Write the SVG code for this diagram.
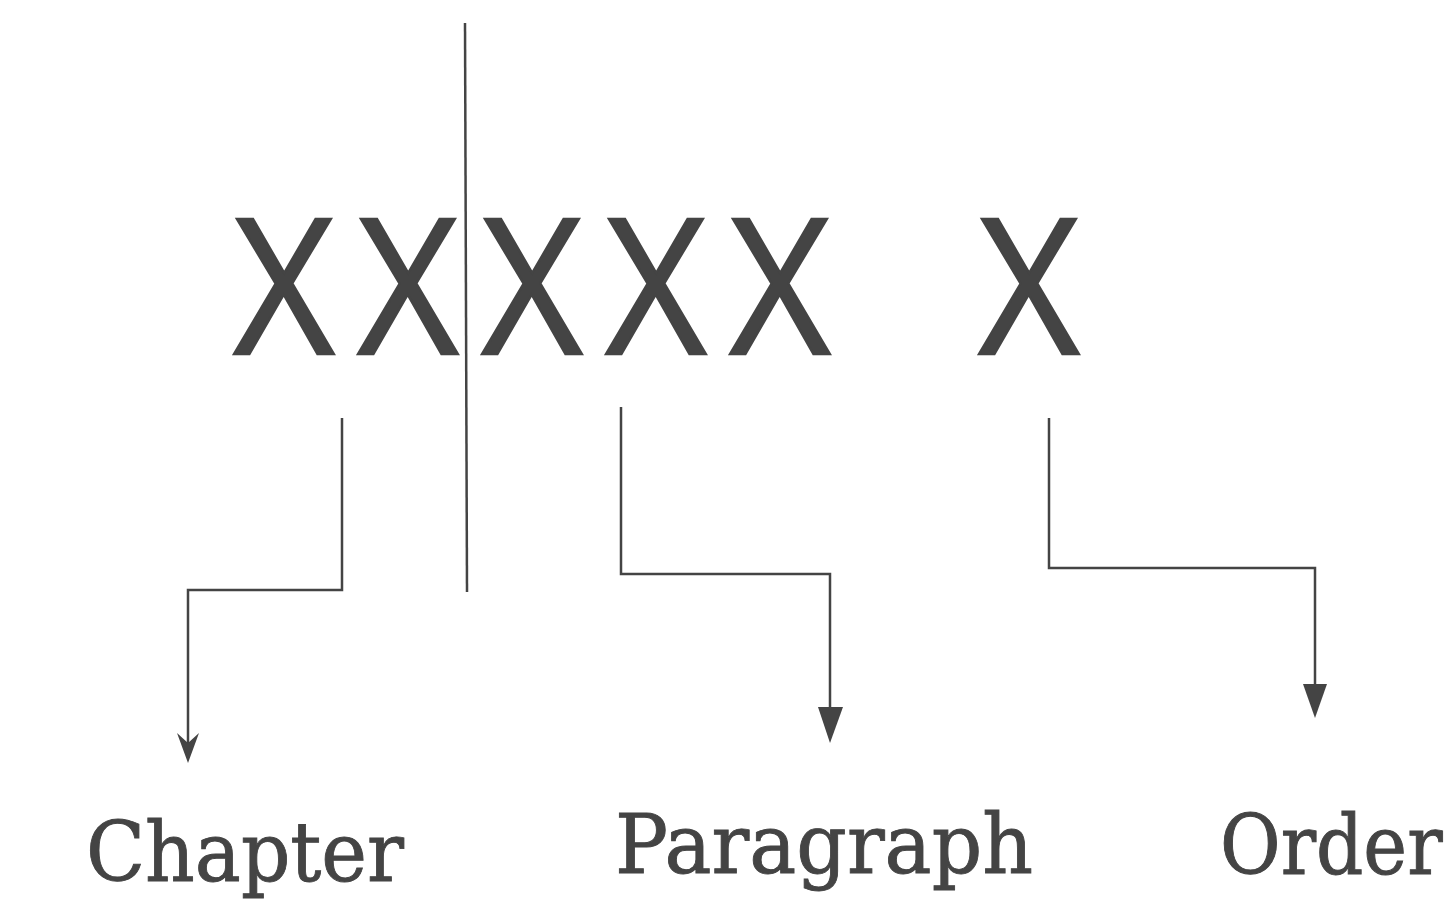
<svg xmlns="http://www.w3.org/2000/svg" width="1454" height="902" viewBox="0 0 1454 902">
<style>
.x{font-family:"Open Sans","DejaVu Sans",sans-serif;font-size:188px;fill:#444;stroke:#444;stroke-width:2.5;text-anchor:middle}
.lbl{font-family:"DejaVu Serif","Liberation Serif",serif;font-size:82px;fill:#444;stroke:#444;stroke-width:0.9}
.ln{fill:none;stroke:#444;stroke-width:2.5}
</style>
<rect width="1454" height="902" fill="#fff"/>
<g id="code">
<text class="x" transform="translate(284,354) scale(0.93,1)">X</text>
<text class="x" transform="translate(408,354) scale(0.93,1)">X</text>
<text class="x" transform="translate(532,354) scale(0.93,1)">X</text>
<text class="x" transform="translate(656,354) scale(0.93,1)">X</text>
<text class="x" transform="translate(780,354) scale(0.93,1)">X</text>
<text class="x" transform="translate(1029,354) scale(0.93,1)">X</text>
</g>
<g id="divider"><line class="ln" x1="465" y1="23" x2="467" y2="592"/></g>
<g id="connectors">
<polyline class="ln" points="342,418 342,590 188,590 188,758"/>
<path d="M188,763 L177,733 L188,743 L199,733 Z" fill="#444"/>
<polyline class="ln" points="621,407 621,574 830,574 830,712"/>
<path d="M818,707 L843,707 L830,743 Z" fill="#444"/>
<polyline class="ln" points="1049,418 1049,568 1315,568 1315,690"/>
<path d="M1303,684 L1327,684 L1315,718 Z" fill="#444"/>
</g>
<g id="chapter"><text class="lbl" x="86" y="881" textLength="318" lengthAdjust="spacingAndGlyphs">Chapter</text></g>
<g id="paragraph"><text class="lbl" x="615" y="873" textLength="418" lengthAdjust="spacingAndGlyphs">Paragraph</text></g>
<g id="order"><text class="lbl" style="font-size:74px" transform="translate(1220,874) scale(1,1.1)" x="0" y="0">Order</text></g>
</svg>
